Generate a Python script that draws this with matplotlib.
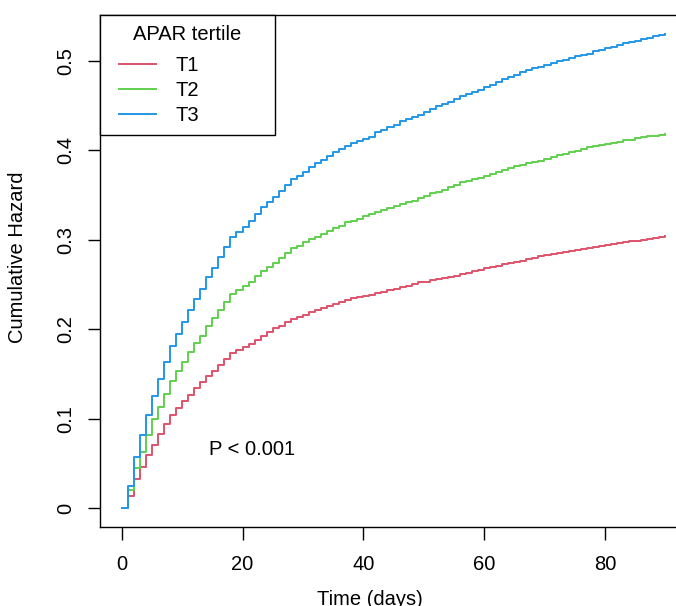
import matplotlib
matplotlib.use("Agg")
import matplotlib.pyplot as plt
from matplotlib.lines import Line2D
from matplotlib.legend_handler import HandlerLine2D

plt.rcParams['font.family'] = ['Liberation Sans', 'DejaVu Sans']

days = list(range(0, 91))

t1 = [0, 0.0138, 0.0324, 0.046, 0.0597, 0.071, 0.083, 0.094, 0.104, 0.1115,
      0.1193, 0.1264, 0.1339, 0.1406, 0.148, 0.1536, 0.1603, 0.1667, 0.1734, 0.1767,
      0.1797, 0.1834, 0.1883, 0.1927, 0.1965, 0.201, 0.2039, 0.2077, 0.2114, 0.2133,
      0.2159, 0.2189, 0.2215, 0.2234, 0.2263, 0.2282, 0.23, 0.2327, 0.2346, 0.2357,
      0.2368, 0.2386, 0.2405, 0.242, 0.2438, 0.245, 0.2469, 0.2487, 0.2506, 0.2525,
      0.2532, 0.2547, 0.2558, 0.2574, 0.2585, 0.2599, 0.2617, 0.2630, 0.2648, 0.2662,
      0.2681, 0.2693, 0.2712, 0.2724, 0.2741, 0.2755, 0.2768, 0.2786, 0.2798, 0.2817,
      0.283, 0.2839, 0.2853, 0.2861, 0.2876, 0.2886, 0.2895, 0.2909, 0.2918, 0.2933,
      0.2942, 0.2950, 0.2963, 0.2970, 0.2981, 0.299, 0.2997, 0.3010, 0.3018, 0.3030,
      0.3039]

t2 = [0, 0.0205, 0.0447, 0.063, 0.082, 0.0996, 0.1133, 0.1275, 0.1424, 0.1536,
      0.1637, 0.1741, 0.1842, 0.1927, 0.2039, 0.2122, 0.2215, 0.23, 0.2394, 0.2438,
      0.2487, 0.2532, 0.2599, 0.2655, 0.2692, 0.274, 0.2793, 0.2852, 0.2908, 0.2934,
      0.2972, 0.3009, 0.3035, 0.3065, 0.3102, 0.3129, 0.3158, 0.3196, 0.3214, 0.3233,
      0.3263, 0.3289, 0.3314, 0.3333, 0.3356, 0.3375, 0.34, 0.342, 0.3437, 0.3464,
      0.3494, 0.352, 0.3538, 0.356, 0.3587, 0.3617, 0.3643, 0.3661, 0.368, 0.3691,
      0.3717, 0.3736, 0.3762, 0.3781, 0.38, 0.3822, 0.384, 0.3855, 0.3874, 0.3885,
      0.3904, 0.393, 0.3949, 0.396, 0.3979, 0.3997, 0.4016, 0.4035, 0.4053, 0.406,
      0.4072, 0.4083, 0.4098, 0.4116, 0.412, 0.4135, 0.4147, 0.4158, 0.4165, 0.4176,
      0.4183]

t3 = [0, 0.0246, 0.057, 0.0817, 0.104, 0.1256, 0.144, 0.163, 0.1816, 0.1946,
      0.2077, 0.2215, 0.2338, 0.245, 0.258, 0.2685, 0.2804, 0.2916, 0.3035, 0.3084,
      0.3147, 0.3207, 0.3289, 0.3363, 0.342, 0.3475, 0.3542, 0.3617, 0.368, 0.3717,
      0.3762, 0.3818, 0.3855, 0.3893, 0.394, 0.3978, 0.4016, 0.4053, 0.4079, 0.4109,
      0.4128, 0.4153, 0.4202, 0.4232, 0.4258, 0.4284, 0.4332, 0.4351, 0.437, 0.44,
      0.4433, 0.4463, 0.4493, 0.4519, 0.4545, 0.4575, 0.4605, 0.4631, 0.4657, 0.4679,
      0.4706, 0.4735, 0.4769, 0.4799, 0.4817, 0.4843, 0.488, 0.4899, 0.4918, 0.4929,
      0.4955, 0.4978, 0.4996, 0.5015, 0.5034, 0.5052, 0.5071, 0.5078, 0.5108, 0.5127,
      0.5142, 0.5153, 0.5179, 0.5198, 0.5209, 0.522, 0.5246, 0.5257, 0.5276, 0.5291,
      0.5302]

series_labels = ["T1", "T2", "T3"]
series_colors = ["#DF536B", "#61D04F", "#2297E6"]
legend_title = "APAR tertile"
x_ticks = [0, 20, 40, 60, 80]
y_ticks = [0, 0.1, 0.2, 0.3, 0.4, 0.5]
y_ticklabels = ["0", "0.1", "0.2", "0.3", "0.4", "0.5"]
p_text = "P < 0.001"

W, H = 676, 606
fig = plt.figure(figsize=(W / 100, H / 100), dpi=100)
ax = fig.add_axes([100 / W, (H - 527) / H, 587 / W, 512 / H])

handles = []
for vals, lab, col in zip([t1, t2, t3], series_labels, series_colors):
    ln, = ax.step(days, vals, where='post', color=col, lw=1.4, label=lab)
    handles.append(ln)

ax.set_xlim(-3.6, 93.6)
ax.set_ylim(-0.0212, 0.5514)

ax.set_xticks(x_ticks)
ax.set_xticklabels([str(v) for v in x_ticks])
ax.set_yticks(y_ticks)
ax.set_yticklabels(y_ticklabels, rotation=90, va='center')

fs = 14.5
ax.tick_params(axis='both', direction='out', length=9, width=1.0, color='black',
               labelsize=fs, labelcolor='black')
ax.tick_params(axis='x', pad=11)
ax.tick_params(axis='y', pad=9)
for s in ax.spines.values():
    s.set_linewidth(1.0)
    s.set_color('black')

ax.text(21.6, 0.065, p_text, ha='center', va='center', fontsize=fs)

fig.text(369.7 / W, (H - 590) / H, "Time (days)", ha='center', va='top', fontsize=fs)
fig.text(18 / W, (H - 257) / H, "Cumulative Hazard", ha='center', va='center',
         rotation=90, fontsize=fs)

leg = ax.legend(handles=handles, labels=series_labels, title=legend_title,
                loc='upper left', bbox_to_anchor=(0, 0, 175 / 587, 1.0),
                mode='expand', borderaxespad=0, fontsize=fs, title_fontsize=fs,
                frameon=True, fancybox=False, framealpha=1, edgecolor='black',
                borderpad=0.5, labelspacing=0.3, handlelength=2.3,
                handletextpad=0.95,
                handler_map={Line2D: HandlerLine2D(xpad=0.45)})
leg.get_frame().set_linewidth(1.0)
# extra gap between the legend title and its entries
leg._legend_box.sep = 8.6

fig.savefig("out.png", dpi=100)
